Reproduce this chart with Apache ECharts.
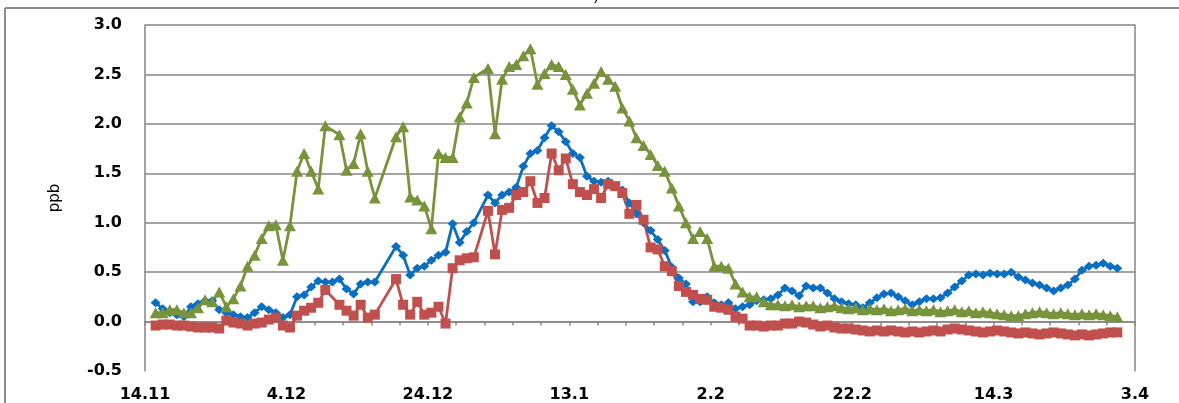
<!DOCTYPE html>
<html>
<head>
<meta charset="utf-8">
<title>ppb time series</title>
<script src="https://cdn.jsdelivr.net/npm/echarts@6/dist/echarts.min.js"></script>
<style>
  html, body { margin: 0; padding: 0; background: #fff; }
  #chart { width: 1179px; height: 403px; }
</style>
</head>
<body>
<div id="chart"></div>
<script>
// Time axis in days since 14.11 (0) up to 3.4 (140); labels every 20 days
const dayRange = 140;
const tickLabels = ['14.11', '4.12', '24.12', '13.1', '2.2', '22.2', '14.3', '3.4'];
// Daily samples are taken around midday
const sampleHour = 0.5;

// Daily values (ppb), index = day number; null = no measurement that day
const seriesBlue = [
  null, 0.19, 0.13, 0.09, 0.07, 0.05, 0.15, 0.18, 0.21, 0.21,
  0.12, 0.09, 0.07, 0.05, 0.04, 0.09, 0.15, 0.12, 0.09, 0.04,
  0.07, 0.25, 0.27, 0.35, 0.41, 0.40, 0.40, 0.43, 0.33, 0.28,
  0.38, 0.40, 0.40, null, null, 0.76, 0.67, 0.47, 0.54, 0.56,
  0.62, 0.67, 0.70, 0.99, 0.80, 0.91, 1.00, null, 1.28, 1.20,
  1.28, 1.31, 1.36, 1.57, 1.70, 1.73, 1.86, 1.98, 1.92, 1.82,
  1.70, 1.66, 1.47, 1.42, 1.41, 1.42, 1.37, 1.33, 1.20, 1.09,
  1.00, 0.92, 0.83, 0.72, 0.55, 0.44, 0.38, 0.20, 0.20, 0.25,
  0.19, 0.17, 0.19, 0.13, 0.15, 0.17, 0.21, 0.22, 0.23, 0.27,
  0.34, 0.31, 0.26, 0.36, 0.34, 0.34, 0.29, 0.23, 0.20, 0.18,
  0.17, 0.14, 0.19, 0.24, 0.28, 0.29, 0.25, 0.21, 0.17, 0.20,
  0.23, 0.23, 0.24, 0.29, 0.35, 0.41, 0.47, 0.48, 0.47, 0.49,
  0.48, 0.48, 0.50, 0.45, 0.42, 0.39, 0.37, 0.34, 0.31, 0.34,
  0.37, 0.43, 0.52, 0.56, 0.57, 0.59, 0.56, 0.54
];

const seriesRed = [
  null, -0.04, -0.03, -0.03, -0.04, -0.04, -0.05, -0.06, -0.06, -0.06,
  -0.07, 0.01, -0.01, -0.02, -0.04, -0.02, -0.01, 0.02, 0.04, -0.04,
  -0.06, 0.06, 0.11, 0.14, 0.19, 0.32, null, 0.17, 0.11, 0.06,
  0.17, 0.04, 0.07, null, null, 0.43, 0.17, 0.07, 0.20, 0.07,
  0.09, 0.15, -0.02, 0.54, 0.62, 0.64, 0.65, null, 1.12, 0.68,
  1.13, 1.15, 1.28, 1.31, 1.42, 1.20, 1.25, 1.70, 1.53, 1.65,
  1.39, 1.31, 1.28, 1.34, 1.25, 1.39, 1.37, 1.30, 1.09, 1.18,
  1.03, 0.75, 0.73, 0.56, 0.51, 0.36, 0.30, 0.27, 0.23, 0.22,
  0.15, 0.14, 0.12, 0.05, 0.03, -0.04, -0.04, -0.05, -0.04, -0.04,
  -0.02, -0.02, 0.00, -0.01, -0.03, -0.05, -0.04, -0.06, -0.07, -0.07,
  -0.08, -0.09, -0.10, -0.09, -0.10, -0.09, -0.10, -0.11, -0.10, -0.11,
  -0.10, -0.09, -0.10, -0.08, -0.07, -0.08, -0.09, -0.10, -0.11, -0.10,
  -0.09, -0.10, -0.11, -0.12, -0.11, -0.12, -0.13, -0.12, -0.11, -0.12,
  -0.13, -0.14, -0.13, -0.14, -0.13, -0.12, -0.11, -0.11
];

const seriesGreen = [
  null, 0.09, 0.09, 0.12, 0.12, 0.09, 0.09, 0.14, 0.22, 0.20,
  0.30, 0.15, 0.23, 0.36, 0.56, 0.67, 0.84, 0.97, 0.98, 0.62,
  0.97, 1.52, 1.70, 1.52, 1.34, 1.98, null, 1.89, 1.53, 1.60,
  1.90, 1.52, 1.25, null, null, 1.87, 1.97, 1.26, 1.23, 1.17,
  0.94, 1.70, 1.66, 1.66, 2.07, 2.21, 2.47, null, 2.56, 1.90,
  2.45, 2.58, 2.60, 2.69, 2.76, 2.40, 2.51, 2.60, 2.58, 2.50,
  2.35, 2.19, 2.31, 2.41, 2.53, 2.45, 2.38, 2.16, 2.03, 1.86,
  1.78, 1.69, 1.58, 1.52, 1.35, 1.17, 1.00, 0.84, 0.91, 0.84,
  0.56, 0.56, 0.54, 0.38, 0.30, 0.25, 0.25, 0.20, 0.17, 0.17,
  0.16, 0.17, 0.15, 0.16, 0.16, 0.14, 0.15, 0.16, 0.14, 0.13,
  0.14, 0.12, 0.13, 0.12, 0.13, 0.11, 0.12, 0.13, 0.11, 0.12,
  0.11, 0.12, 0.10, 0.11, 0.12, 0.10, 0.11, 0.09, 0.10, 0.09,
  0.08, 0.07, 0.06, 0.06, 0.08, 0.09, 0.10, 0.09, 0.08, 0.09,
  0.08, 0.07, 0.08, 0.07, 0.08, 0.07, 0.06, 0.05
];

const gridGray = '#868686';
const labelFont = { fontFamily: 'DejaVu Sans', fontWeight: 'bold', fontSize: 16, color: '#000' };

// [time in days, value] pairs, skipping days without data
function toPoints(values) {
  const pts = [];
  values.forEach((v, day) => { if (v !== null) pts.push([day + sampleHour, v]); });
  return pts;
}

function lineSeries(name, values, color, symbol, size) {
  return {
    name, type: 'line', data: toPoints(values),
    symbol, symbolSize: size, showSymbol: true, showAllSymbol: true,
    lineStyle: { color, width: 2.8 },
    itemStyle: { color, borderWidth: 0 },
    emphasis: { disabled: true },
    z: 3
  };
}

const chart = echarts.init(document.getElementById('chart'), null, { renderer: 'canvas' });

chart.setOption({
  animation: false,
  backgroundColor: '#fff',
  grid: { left: 145, right: 44, top: 25, bottom: 16 },
  xAxis: {
    type: 'value',
    min: 0, max: dayRange, interval: 20,
    axisLine: { onZero: true, lineStyle: { color: gridGray, width: 1.5 } },
    axisTick: { show: true, length: 4, lineStyle: { color: gridGray, width: 1.5 } },
    minorTick: { show: true, splitNumber: 5, length: 4, lineStyle: { color: gridGray, width: 1.5 } },
    axisLabel: Object.assign({
      margin: 16,
      showMinLabel: true, showMaxLabel: true,
      formatter: v => tickLabels[Math.round(v / 20)] || ''
    }, labelFont),
    splitLine: { show: false }
  },
  yAxis: [{
    type: 'value',
    min: -0.5, max: 3.0, interval: 0.5,
    name: 'ppb',
    nameLocation: 'middle',
    nameGap: 82,
    nameRotate: 90,
    nameTextStyle: { fontFamily: 'DejaVu Sans', fontSize: 15, color: '#000' },
    axisLine: { show: true, lineStyle: { color: gridGray, width: 1.5 } },
    axisTick: { show: false },
    axisLabel: Object.assign({ margin: 23, formatter: v => v.toFixed(1) }, labelFont),
    splitLine: { show: true, showMinLine: false, lineStyle: { color: gridGray, width: 1.5 } }
  }, {
    type: 'value',
    position: 'right',
    min: -0.5, max: 3.0, interval: 0.5,
    axisLine: { show: true, lineStyle: { color: gridGray, width: 1.5 } },
    axisTick: { show: false },
    axisLabel: { show: false },
    splitLine: { show: false }
  }],
  series: [
    lineSeries('blue', seriesBlue, '#0B6FC1', 'diamond', [10, 9]),
    lineSeries('red', seriesRed, '#C0504D', 'rect', 10),
    lineSeries('green', seriesGreen, '#77933C', 'triangle', [12, 11])
  ],
  graphic: [
    { type: 'line', shape: { x1: 5, y1: 8, x2: 1179, y2: 8 }, style: { stroke: '#8c8c8c', lineWidth: 2 }, silent: true },
    { type: 'line', shape: { x1: 5, y1: 8, x2: 5, y2: 403 }, style: { stroke: '#8c8c8c', lineWidth: 2 }, silent: true },
    { type: 'text', left: 586, top: -12, style: { text: 'c)', font: '16px "Liberation Sans"', fill: '#000' }, silent: true }
  ]
});
</script>
</body>
</html>
